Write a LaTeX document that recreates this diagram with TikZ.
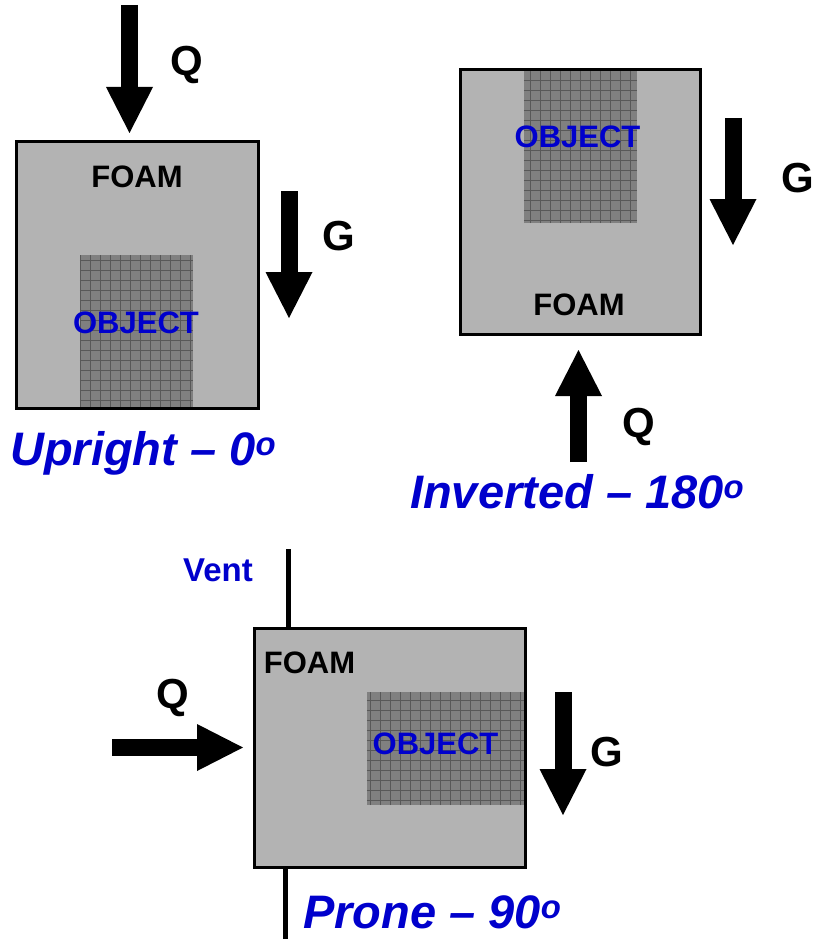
\documentclass[tikz,border=0pt]{standalone}
\usepackage{fontspec}
\setmainfont{Liberation Sans}
\usetikzlibrary{arrows.meta,positioning}
\definecolor{foamgray}{RGB}{179,179,179}
\definecolor{objgray}{RGB}{128,128,128}
\definecolor{gridgray}{RGB}{88,88,88}
\definecolor{capblue}{RGB}{0,0,204}
\newcommand{\fsz}[1]{\fontsize{#1}{#1}\selectfont}

\begin{document}
\begin{tikzpicture}[x=1pt, y=-1pt,
                    foambox/.style={draw, fill=foamgray, line width=3pt, inner sep=0pt},
                    objbox/.style={fill=objgray, inner sep=0pt},
                    objgrid/.style={draw=gridgray, line width=0.8pt, step=10pt},
                    foamtxt/.style={font=\bfseries\fsz{31}, text=black, inner sep=0pt},
                    objtxt/.style={font=\bfseries\fsz{31}, text=capblue, inner sep=0pt},
                    forcetxt/.style={font=\bfseries\fsz{42}, inner sep=0pt},
                    captxt/.style={font=\bfseries\itshape\fsz{47}, text=capblue, inner sep=0pt, anchor=base west},
                    bigarrow/.style={line width=17pt, -{Triangle[width=47pt,length=46pt,line width=0pt]}},
                    ventline/.style={line width=5pt}]
        \useasboundingbox (0,0) rectangle (814,939);
        % Upright side
        \node[foambox, minimum width=242, minimum height=267] (upfoam) at (137,274.5) {};
        \node[objbox, minimum width=113, minimum height=151.5] (upobj) at (136.5,330.75) {};
        \draw[objgrid] (upobj.south west) grid (upobj.north east);
        \node[foamtxt] (upfoamlbl) at (137,177) {FOAM};
        \node[objtxt] (upobjlbl) at (136,322.5) {OBJECT};
        \coordinate (upQs) at (129.5,5);
        \coordinate (upQe) at (129.5,133);
        \draw[bigarrow] (upQs) -- (upQe);
        \node[forcetxt] (upQ) at (187,65) {Q};
        \coordinate (upGs) at (289,191);
        \coordinate (upGe) at (289,318);
        \draw[bigarrow] (upGs) -- (upGe);
        \node[forcetxt] (upG) at (339,236) {G};
        \node[captxt] (upcap) at (10,465) {Upright – 0\textsuperscript{o}};
        % Inverted side
        \node[foambox, minimum width=240, minimum height=264] (invfoam) at (580,202) {};
        \node[objbox, minimum width=113, minimum height=151.5] (invobj) at (580.5,147.25) {};
        \draw[objgrid] (invobj.south west) grid (invobj.north east);
        \node[objtxt] (invobjlbl) at (577.5,137) {OBJECT};
        \node[foamtxt] (invfoamlbl) at (579,305) {FOAM};
        \coordinate (invGs) at (733,118);
        \coordinate (invGe) at (733,245);
        \draw[bigarrow] (invGs) -- (invGe);
        \node[forcetxt] (invG) at (798,178) {G};
        \coordinate (invQs) at (578.5,462);
        \coordinate (invQe) at (578.5,350);
        \draw[bigarrow] (invQs) -- (invQe);
        \node[forcetxt] (invQ) at (639,427) {Q};
        \node[captxt] (invcap) at (410,508) {Inverted – 180\textsuperscript{o}};
        % Prone side
        \node[foambox, minimum width=271, minimum height=239] (prfoam) at (389.5,747.5) {};
        \node[objbox, minimum width=156.5, minimum height=113] (probj) at (445.25,748.5) {};
        \draw[objgrid] (probj.south west) grid (probj.north east);
        \node[foamtxt] (prfoamlbl) at (309.5,662.5) {FOAM};
        \node[objtxt] (probjlbl) at (435.5,743.5) {OBJECT};
        \coordinate (ventA) at (288,549);
        \coordinate (ventB) at (285,939);
        \draw[ventline] (ventA) -- (ventA |- prfoam.north);
        \draw[ventline] (prfoam.south -| ventB) -- (ventB);
        \node[objtxt, font=\bfseries\fsz{33}] (ventlbl) at (218,570) {Vent};
        \coordinate (prQs) at (112,747.5);
        \coordinate (prQe) at (243,747.5);
        \draw[bigarrow] (prQs) -- (prQe);
        \node[forcetxt] (prQ) at (173,698) {Q};
        \coordinate (prGs) at (563,692);
        \coordinate (prGe) at (563,815);
        \draw[bigarrow] (prGs) -- (prGe);
        \node[forcetxt] (prG) at (607,752) {G};
        \node[captxt] (prcap) at (303,928) {Prone – 90\textsuperscript{o}};
    \end{tikzpicture}
\end{document}
